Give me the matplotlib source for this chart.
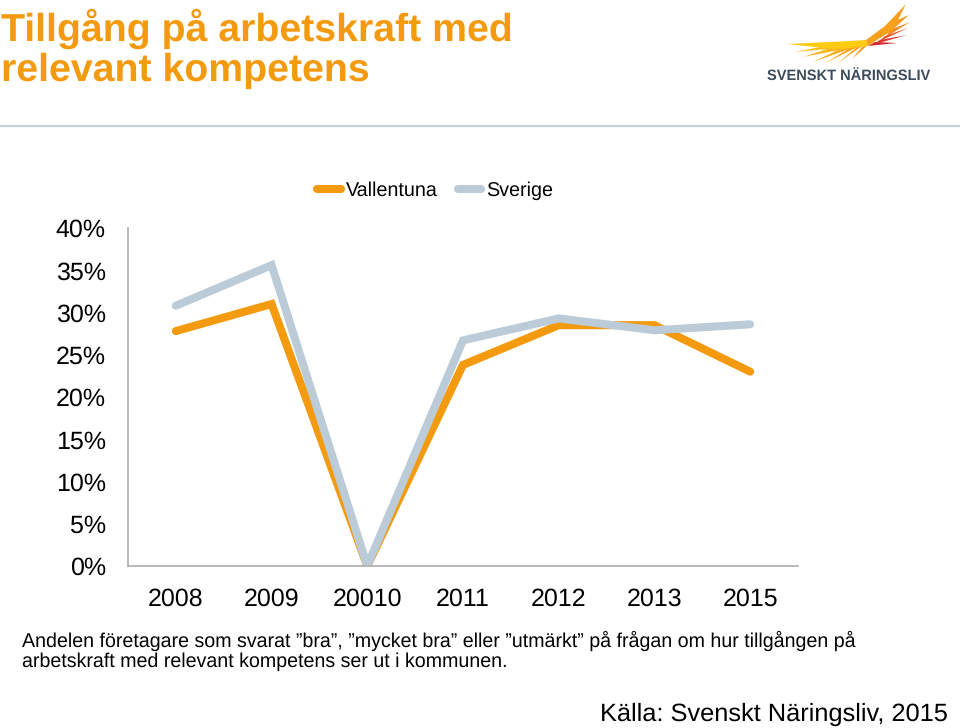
import matplotlib
matplotlib.use("Agg")
import matplotlib.pyplot as plt
from matplotlib.patches import Polygon
from matplotlib.lines import Line2D

plt.rcParams['font.family'] = ['Liberation Sans', 'DejaVu Sans']
plt.rcParams['text.hinting'] = 'no_hinting'
plt.rcParams['text.hinting_factor'] = 8

years = ["2008", "2009", "20010", "2011", "2012", "2013", "2015"]
vallentuna = [27.8, 31.0, 0.0, 23.8, 28.5, 28.5, 23.0]
sverige = [30.8, 35.6, 0.0, 26.7, 29.3, 27.9, 28.6]
yticks = [0, 5, 10, 15, 20, 25, 30, 35, 40]
ORANGE = "#F39A0E"
GREY = "#BCCBD8"
W, H = 960, 728

fig = plt.figure(figsize=(9.6, 7.28), dpi=100, facecolor="white")
ax = fig.add_axes([128/W, 1-566/H, 670/W, 338/H])
x = list(range(len(years)))
ax.plot(x, vallentuna, color=ORANGE, lw=5.8, solid_joinstyle="miter", solid_capstyle="round", label="Vallentuna")
ax.plot(x, sverige, color=GREY, lw=5.8, solid_joinstyle="miter", solid_capstyle="round", label="Sverige")
ax.set_xlim(-0.5, 6.5)
ax.set_ylim(0, 40)
ax.set_xticks(x, years)
ax.set_yticks(yticks, [f"{v}%" for v in yticks])
ax.tick_params(length=0, labelsize=18, colors="black")
ax.tick_params(axis="x", pad=15.5)
ax.tick_params(axis="y", pad=16)
for s in ("top", "right"):
    ax.spines[s].set_visible(False)
for s in ("left", "bottom"):
    ax.spines[s].set_color("#ADADAD")
    ax.spines[s].set_linewidth(1.2)

h1 = Line2D([0], [0], color=ORANGE, lw=5.8, solid_capstyle="round")
h2 = Line2D([0], [0], color=GREY, lw=5.8, solid_capstyle="round")
fig.legend([h1, h2], ["Vallentuna", "Sverige"], ncol=2, frameon=False, fontsize=14.2,
           loc="center left", bbox_to_anchor=(317/W, 1-191/H), borderaxespad=0, borderpad=0,
           handlelength=1.2, handletextpad=0.25, columnspacing=1.02)

fig.text(1/W, 1-29/H, "Tillgång på arbetskraft med", color=ORANGE, fontsize=28.28, fontweight="bold", va="center")
fig.text(1/W, 1-71/H, "relevant kompetens", color=ORANGE, fontsize=28.28, fontweight="bold", va="center")
fig.add_artist(Line2D([0, 1], [1-126/H]*2, color="#C5D0DC", lw=1.5))

fig.text(22/W, 1-640.5/H, "Andelen företagare som svarat ”bra”, ”mycket bra” eller ”utmärkt” på frågan om hur tillgången på",
         fontsize=14.15, va="center", color="black")
fig.text(22/W, 1-662/H, "arbetskraft med relevant kompetens ser ut i kommunen.", fontsize=14.15, va="center", color="black")
fig.text(948/W, 1-714/H, "Källa: Svenskt Näringsliv, 2015", fontsize=18.25, va="center", ha="right", color="black")

# logo
def poly(pts, c):
    fig.add_artist(Polygon([(px/W, 1-py/H) for px, py in pts], closed=True, color=c, lw=0, transform=fig.transFigure))
for pts, c in [
    ([(795,52),(825,46),(850,47)], "#FBC01A"),
    ([(803,57),(830,48),(855,47)], "#FBB81A"),
    ([(813,62),(840,49),(858,46)], "#F9AE1C"),
    ([(825,63),(850,48),(862,45)], "#F8A81C"),
    ([(838,63),(857,47),(865,44)], "#F6A01C"),
    ([(852,59),(862,47),(869,44)], "#F59A1C"),
    ([(787,44),(840,41.5),(866,40),(868,46),(840,49),(815,47)], "#FCCB12"),
    ([(909,15),(888,24),(890,32)], "#F59A20"),
    ([(910,22),(890,30),(886,37)], "#F08A22"),
    ([(908,28),(885,36),(878,42)], "#E9582A"),
    ([(907,35),(880,40),(872,45)], "#DE342C"),
    ([(897,43),(875,42),(868,46)], "#CF2A2E"),
    ([(866,40),(885,26),(906,4),(893,30),(880,38),(868,46)], "#F7A01E"),
]:
    poly(pts, c)
fig.text(767/W, 1-76/H, "SVENSKT NÄRINGSLIV", fontsize=10.5, fontweight="bold", color="#3C4C5C", va="center")

fig.savefig("out.png", dpi=100)
